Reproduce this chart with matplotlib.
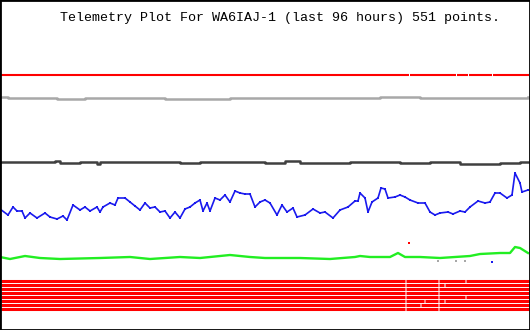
import numpy as np
import matplotlib.pyplot as plt

# telemetry channels, x = plot position (0..530 across 96 h), y = level
title = "Telemetry Plot For WA6IAJ-1 (last 96 hours) 551 points."

blue_t = [0, 8, 13, 17, 22, 25, 30, 37, 45, 50, 57, 63, 67, 73, 80, 85, 90, 97, 100, 103,
          110, 115, 118, 125, 130, 135, 140, 145, 150, 155, 160, 165, 170, 175, 180, 185,
          190, 195, 200, 203, 207, 210, 215, 220, 225, 230, 235, 240, 245, 250, 255, 260,
          265, 270, 277, 282, 287, 293, 297, 305, 313, 320, 325, 333, 340, 348, 355, 358,
          360, 365, 368, 372, 378, 381, 385, 388, 395, 400, 405, 410, 418, 425, 430, 435,
          440, 448, 453, 460, 465, 470, 478, 485, 490, 495, 500, 507, 512, 515, 520, 522, 528]
blue_v = [121, 115, 123, 119, 119, 112, 117, 112, 117, 113, 111, 114, 110, 125, 120, 123, 119, 123, 118, 123,
          127, 125, 132, 132, 128, 124, 120, 127, 122, 123, 118, 119, 112, 118, 112, 121,
          123, 127, 130, 119, 127, 119, 132, 130, 135, 128, 139, 137, 136, 136, 123, 128,
          130, 127, 115, 125, 118, 122, 113, 115, 121, 117, 118, 112, 120, 123, 129, 129,
          137, 132, 118, 128, 132, 142, 141, 132, 133, 135, 133, 130, 127, 127, 118, 115,
          117, 118, 116, 119, 118, 123, 129, 127, 128, 137, 137, 132, 135, 157, 147, 138, 140]

green_t = [0, 10, 25, 40, 60, 100, 130, 150, 180, 200, 220, 230, 250, 265, 280, 300, 330,
           355, 360, 370, 390, 398, 405, 420, 440, 455, 470, 480, 500, 510, 515, 520, 528]
green_v = [73, 71, 74, 72, 71, 72, 73, 71, 73, 72, 74, 75, 73, 72, 72, 72, 71,
           73, 74, 73, 73, 77, 73, 73, 72, 73, 74, 76, 77, 77, 83, 82, 77]

dark_t = [0, 30, 55, 60, 80, 97, 100, 130, 170, 180, 200, 265, 285, 300, 350, 380, 400,
          430, 460, 480, 500, 520, 528]
dark_v = [168, 168, 169, 167, 168, 166, 168, 168, 168, 167, 168, 167, 169, 167, 168, 168, 167,
          168, 166, 166, 167, 168, 168]

gray_t = [0, 8, 55, 57, 85, 165, 230, 330, 380, 420, 460, 500, 528]
gray_v = [233, 232, 232, 231, 232, 231, 232, 232, 233, 232, 232, 232, 233]

red_level = 255.5
red_breaks = [409, 456, 468, 492]

# status bits, one row each, with the positions where a row drops out
bit_levels = [49, 45, 41, 37, 33, 29, 25, 21]
bit_common_breaks = [405, 438]
bit_row_breaks = [[465], [444], [], [], [465], [424, 444], [420], []]

stray_t = [409, 438, 456, 465, 492]
stray_v = [87, 69, 69, 69, 68]
stray_c = ['#ff0000', '#a8a8a8', '#a8a8a8', '#a8a8a8', '#1a1aee']

T0, T1 = 1, 529


def segments(breaks):
    edges = [T0] + sorted(breaks) + [T1]
    out = []
    for i in range(len(edges) - 1):
        a = edges[i] + (0.5 if i > 0 else 0)
        b = edges[i + 1] - (0.5 if i < len(edges) - 2 else 0)
        out.append((a, b))
    return out


fig = plt.figure(figsize=(5.3, 3.3), dpi=100)
ax = fig.add_axes([0, 0, 1, 1])
ax.set_xlim(0, 530)
ax.set_ylim(0, 330)
ax.set_xticks([])
ax.set_yticks([])
for s in ax.spines.values():
    s.set_color('black')
    s.set_linewidth(2)

for a, b in segments(red_breaks):
    ax.plot([a, b], [red_level, red_level], color='#ff0000', lw=1.5, solid_capstyle='butt')

ax.step(gray_t, gray_v, where='post', color='#a8a8a8', lw=1.8)
ax.step(dark_t, dark_v, where='post', color='#404040', lw=1.8)
ax.plot(blue_t, blue_v, color='#1a1aee', lw=1.2, marker='s', ms=2.0, mew=0)
ax.plot(green_t, green_v, color='#22ee22', lw=1.7)

for lvl, extra in zip(bit_levels, bit_row_breaks):
    for a, b in segments(bit_common_breaks + extra):
        ax.plot([a, b], [lvl, lvl], color='#ff0000', lw=2.2, solid_capstyle='butt')

ax.scatter(stray_t, stray_v, c=stray_c, s=3, marker='s', linewidths=0)

ax.text(279.5, 312.5, title, ha='center', va='center', family='Liberation Mono',
        fontsize=9.6, color='black')

fig.savefig('out.png', dpi=100)
